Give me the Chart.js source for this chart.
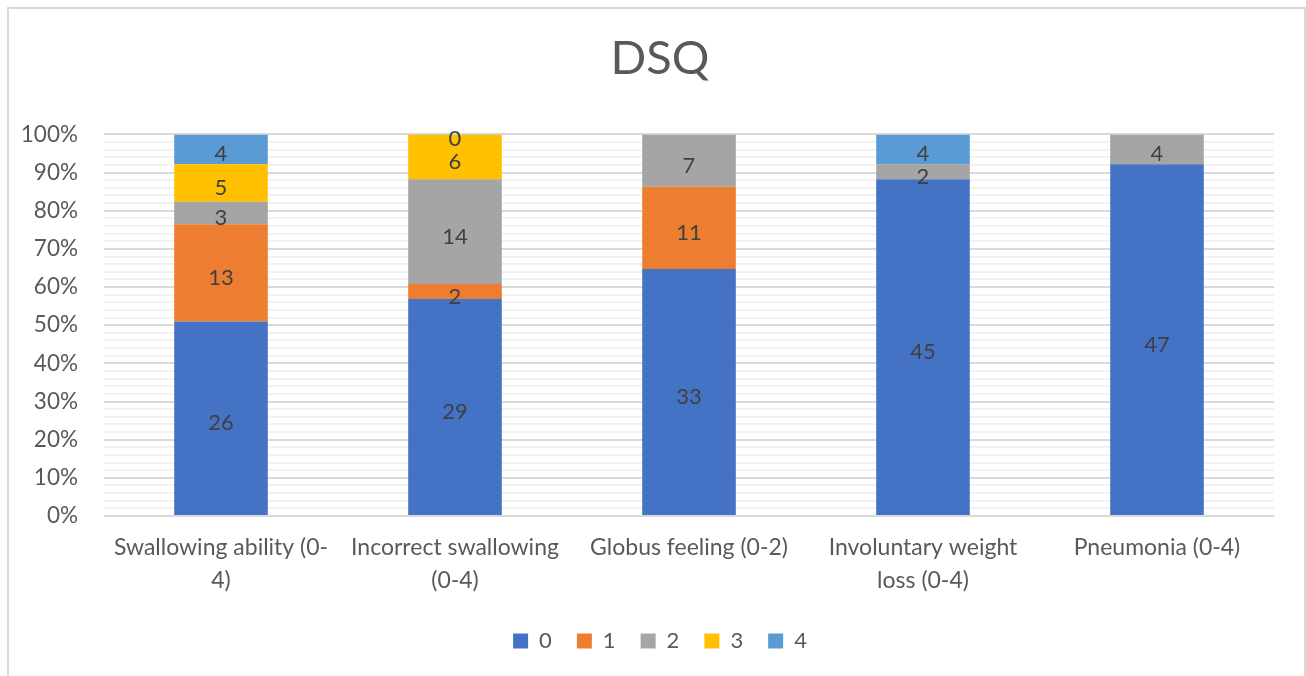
<!DOCTYPE html>
<html>
<head>
<meta charset="utf-8">
<script src="https://cdn.jsdelivr.net/npm/chart.js@4.4.0/dist/chart.umd.min.js"></script>
<style>
  html, body { margin: 0; padding: 0; background: #ffffff; }
  #wrap { position: relative; width: 1306px; height: 676px; }
</style>
</head>
<body>
<div id="wrap"><canvas id="c"></canvas></div>
<script>
const chartTitle = "DSQ";
const categories = [
  ["Swallowing ability (0-", "4)"],
  ["Incorrect swallowing", "(0-4)"],
  ["Globus feeling (0-2)"],
  ["Involuntary weight", "loss (0-4)"],
  ["Pneumonia (0-4)"]
];
const seriesNames = ["0", "1", "2", "3", "4"];
const series0 = [26, 29, 33, 45, 47];
const series1 = [13, 2, 11, null, null];
const series2 = [3, 14, 7, 2, 4];
const series3 = [5, 6, null, null, null];
const series4 = [4, 0, null, 4, null];
const seriesColors = ["#4472C4", "#ED7D31", "#A5A5A5", "#FFC000", "#5B9BD5"];
const yTickValues = [0, 10, 20, 30, 40, 50, 60, 70, 80, 90, 100];

const allSeries = [series0, series1, series2, series3, series4];
const totals = categories.map((_, i) => allSeries.reduce((s, arr) => s + (arr[i] || 0), 0));
const toPct = arr => arr.map((v, i) => v == null ? null : v / totals[i] * 100);

const FONT = "Lato, 'Open Sans', sans-serif";

const datasets = allSeries.map((arr, k) => ({
  label: seriesNames[k],
  data: toPct(arr),
  counts: arr,
  backgroundColor: seriesColors[k],
  borderWidth: 0,
  barPercentage: 0.4,
  categoryPercentage: 1.0
}));

const frame = {
  id: 'frame',
  beforeDraw(chart) {
    const ctx = chart.ctx;
    ctx.save();
    ctx.strokeStyle = '#d9d9d9';
    ctx.lineWidth = 2;
    ctx.beginPath();
    ctx.moveTo(8, 700);
    ctx.lineTo(8, 8);
    ctx.lineTo(1305, 8);
    ctx.lineTo(1305, 700);
    ctx.stroke();
    ctx.restore();
  }
};

const valueLabels = {
  id: 'valueLabels',
  afterDatasetsDraw(chart) {
    const ctx = chart.ctx;
    ctx.save();
    ctx.font = "22px " + FONT;
    ctx.fillStyle = '#404040';
    ctx.textAlign = 'center';
    ctx.textBaseline = 'middle';
    chart.data.datasets.forEach((ds, di) => {
      const meta = chart.getDatasetMeta(di);
      meta.data.forEach((el, i) => {
        const c = ds.counts[i];
        if (c == null) return;
        const p = el.getProps(['x', 'y', 'base'], true);
        const yc = (p.y + p.base) / 2 + 5;
        ctx.fillText(String(c), p.x, yc);
      });
    });
    ctx.restore();
  }
};

new Chart(document.getElementById('c'), {
  type: 'bar',
  data: { labels: categories, datasets },
  plugins: [frame, valueLabels],
  options: {
    responsive: true,
    maintainAspectRatio: false,
    animation: false,
    layout: { padding: { left: 46, right: 32, top: 0, bottom: 14 } },
    plugins: {
      title: {
        display: true,
        text: chartTitle,
        color: '#595959',
        font: { family: FONT, size: 47, weight: 'normal', lineHeight: 1.2 },
        padding: { top: 31, bottom: 47 }
      },
      legend: {
        display: true,
        position: 'bottom',
        labels: {
          color: '#595959',
          font: { family: FONT, size: 22 },
          boxWidth: 15,
          boxHeight: 15,
          padding: 25
        }
      },
      tooltip: { enabled: false }
    },
    scales: {
      x: {
        stacked: true,
        grid: { display: false, drawTicks: false },
        border: { display: false },
        ticks: {
          color: '#595959',
          font: { family: FONT, size: 23, lineHeight: 1.45 },
          padding: 15,
          maxRotation: 0,
          autoSkip: false
        },
        afterFit(scale) { scale.height = 89; }
      },
      y: {
        stacked: true,
        min: 0,
        max: 100,
        border: { display: false },
        grid: {
          drawTicks: false,
          color: ctx => (ctx.tick && yTickValues.includes(ctx.tick.value)) ? '#d9d9d9' : '#f2f2f2',
          lineWidth: 2
        },
        ticks: {
          stepSize: 2,
          autoSkip: false,
          color: '#595959',
          font: { family: FONT, size: 22.5 },
          padding: 26,
          callback: v => yTickValues.includes(v) ? v + '%' : ''
        },
        afterFit(scale) {
          scale.width = 58;
          scale._computeLabelArea = () => undefined;
        }
      }
    }
  }
});
</script>
</body>
</html>
